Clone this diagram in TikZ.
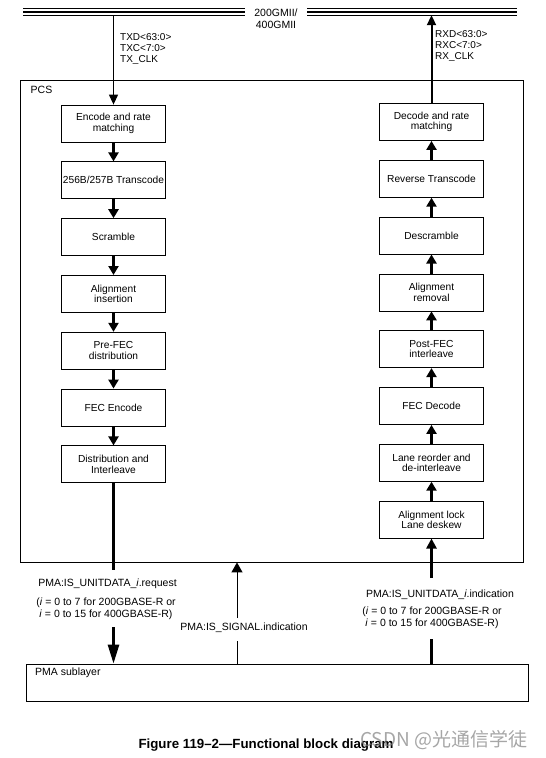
\documentclass[tikz,border=0pt]{standalone}
\usepackage{fontspec}
\setmainfont{Liberation Sans}
\newfontfamily\cjkfont{Noto Sans CJK SC}
\usetikzlibrary{arrows.meta,positioning}

\tikzset{
  blk/.style={draw, line width=0.8pt, minimum width=104pt, minimum height=37pt,
    inner sep=0pt, align=center, font=\fontsize{10.2}{10.5}\selectfont},
  lbl/.style={inner sep=0pt, font=\fontsize{10.5}{11.5}\selectfont},
  flow/.style={line width=2.5pt, -{Triangle[length=9pt,width=10pt]}},
  busline/.style={line width=0.9pt},
}

\begin{document}
\begin{tikzpicture}[x=1pt, y=-1pt, node distance=19pt]
\useasboundingbox (0,0) rectangle (546,758);

\draw[busline] (23,8.3) -- (245,8.3);
\draw[line width=2.4pt] (23,11.8) -- (245,11.8);
\draw[busline] (23,15.2) -- (245,15.2);
\draw[busline] (307,8.3) -- (517,8.3);
\draw[line width=2.4pt] (307,11.8) -- (517,11.8);
\draw[busline] (307,15.2) -- (517,15.2);
\node[lbl, align=center, font=\fontsize{10.5}{12.7}\selectfont] (gmii) at (276,18.6) {200GMII/\\400GMII};

\node[draw, line width=0.8pt, minimum width=503pt, minimum height=482pt, inner sep=0pt] (pcs) at (271.5,321) {};
\node[lbl, anchor=west] (pcslbl) at (30.5,89.5) {PCS};

\node[blk] (enc) at (113.5,123.5) {Encode and rate\\matching};
\node[blk, below=of enc] (tc) {256B/257B Transcode};
\node[blk, below=of tc] (scr) {Scramble};
\node[blk, below=of scr] (ains) {Alignment\\insertion};
\node[blk, below=of ains] (pfec) {Pre-FEC\\distribution};
\node[blk, below=of pfec] (fenc) {FEC Encode};
\node[blk, below=of fenc] (dist) {Distribution and\\Interleave};

\node[blk] (dec) at (431.5,122) {Decode and rate\\matching};
\node[blk, below=of dec] (rtc) {Reverse Transcode};
\node[blk, below=of rtc] (dscr) {Descramble};
\node[blk, below=of dscr] (arem) {Alignment\\removal};
\node[blk, below=of arem] (pofec) {Post-FEC\\interleave};
\node[blk, below=of pofec] (fdec) {FEC Decode};
\node[blk, below=of fdec] (lro) {Lane reorder and\\de-interleave};
\node[blk, below=of lro] (lock) {Alignment lock\\Lane deskew};

\node[draw, line width=0.8pt, minimum width=502pt, minimum height=37pt, inner sep=0pt] (pma) at (277,682.5) {};
\node[lbl, anchor=west] (pmalbl) at (35,673) {PMA sublayer};

\coordinate (txtop) at (113.5,15.2);
\coordinate (rxtop) at (431.5,15.2);
\draw[line width=1.2pt, -{Triangle[length=10pt,width=9pt]}] (txtop) -- (enc.north);
\draw[line width=2pt, -{Triangle[length=10pt,width=9pt]}] (dec.north) -- (rxtop);
\node[lbl, anchor=north west, align=left, font=\fontsize{10}{11}\selectfont] (txsig) at (120,33) {TXD<63:0>\\TXC<7:0>\\TX\_CLK};
\node[lbl, anchor=north west, align=left, font=\fontsize{10}{11}\selectfont] (rxsig) at (435,30.5) {RXD<63:0>\\RXC<7:0>\\RX\_CLK};

\draw[flow] (enc) -- (tc);
\draw[flow] (tc) -- (scr);
\draw[flow] (scr) -- (ains);
\draw[flow] (ains) -- (pfec);
\draw[flow] (pfec) -- (fenc);
\draw[flow] (fenc) -- (dist);

\draw[flow] (lock) -- (lro);
\draw[flow] (lro) -- (fdec);
\draw[flow] (fdec) -- (pofec);
\draw[flow] (pofec) -- (arem);
\draw[flow] (arem) -- (dscr);
\draw[flow] (dscr) -- (rtc);
\draw[flow] (rtc) -- (dec);

\coordinate (reqtop) at (113.5,570);
\coordinate (reqbot) at (113.5,627);
\draw[line width=2.6pt] (dist.south) -- (reqtop);
\draw[line width=2.6pt, -{Triangle[length=19pt,width=11pt]}] (reqbot) -- (reqbot |- pma.north);
\node[lbl] (req) at (107.5,584) {PMA:IS\_UNITDATA\_\textit{i}.request};
\node[lbl, align=center, font=\fontsize{10.5}{12}\selectfont] (reqnote) at (106,609) {(\textit{i} = 0 to 7 for 200GBASE-R or\\\textit{i} = 0 to 15 for 400GBASE-R)};

\coordinate (sigtop) at (237,618);
\coordinate (sigbot) at (237,641);
\draw[line width=1pt] (sigbot |- pma.north) -- (sigbot);
\draw[line width=1pt, -{Triangle[length=10pt,width=11pt]}] (sigtop) -- (sigtop |- pcs.south);
\node[lbl] (sig) at (244,628) {PMA:IS\_SIGNAL.indication};

\coordinate (indtop) at (431.5,578);
\coordinate (indbot) at (431.5,639);
\draw[line width=2.6pt] (indbot |- pma.north) -- (indbot);
\draw[line width=2.6pt, -{Triangle[length=10pt,width=10pt]}] (indtop) -- (lock.south);
\node[lbl] (ind) at (440,595) {PMA:IS\_UNITDATA\_\textit{i}.indication};
\node[lbl, align=center, font=\fontsize{10.5}{12}\selectfont] (indnote) at (432,618) {(\textit{i} = 0 to 7 for 200GBASE-R or\\\textit{i} = 0 to 15 for 400GBASE-R)};

\node[inner sep=0pt, font=\bfseries\fontsize{13.3}{14}\selectfont] (title) at (266,745) {Figure 119--2---Functional block diagram};
\node[inner sep=0pt, anchor=west, text=gray, opacity=0.7, font=\cjkfont\fontsize{19}{19}\selectfont] (mark) at (360,740) {CSDN @光通信学徒};
\end{tikzpicture}
\end{document}
